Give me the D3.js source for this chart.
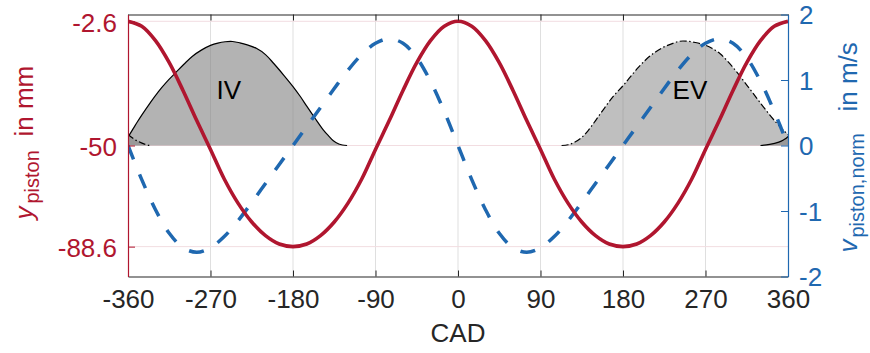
<!DOCTYPE html>
<html>
<head>
<meta charset="utf-8">
<script src="https://cdn.jsdelivr.net/npm/d3@7"></script>
<style>
  body { margin: 0; background: #fff; }
  svg { display: block; }
  text { font-family: "Liberation Sans", Arial, Helvetica, sans-serif; }
</style>
</head>
<body>
<svg id="chart" width="870" height="353"></svg>
<script>
// Crank angle grid (degrees) for piston position and velocity
const cad = [-360,-345,-330,-315,-300,-285,-270,-255,-240,-225,-210,-195,-180,-165,-150,-135,-120,-105,-90,-75,-60,-45,-30,-15,0,
             15,30,45,60,75,90,105,120,135,150,165,180,195,210,225,240,255,270,285,300,315,330,345,360];
// Piston position in mm (left axis)
const yPiston = [-2.6,-4.5,-10.0,-18.4,-29.0,-40.5,-51.5,-62.8,-72.0,-79.2,-84.4,-87.6,-88.6,-87.6,-84.4,-79.2,-72.0,-62.8,-51.5,-40.5,-29.0,-18.4,-10.0,-4.5,-2.6,
                 -4.5,-10.0,-18.4,-29.0,-40.5,-51.5,-62.8,-72.0,-79.2,-84.4,-87.6,-88.6,-87.6,-84.4,-79.2,-72.0,-62.8,-51.5,-40.5,-29.0,-18.4,-10.0,-4.5,-2.6];
// Normalised piston velocity in m/s (right axis)
const vPiston = [0,-0.52,-0.98,-1.34,-1.56,-1.63,-1.56,-1.39,-1.15,-0.87,-0.58,-0.29,0,0.29,0.58,0.87,1.15,1.39,1.56,1.63,1.56,1.34,0.98,0.52,0,
                 -0.52,-0.98,-1.34,-1.56,-1.63,-1.56,-1.39,-1.15,-0.87,-0.58,-0.29,0,0.29,0.58,0.87,1.15,1.39,1.56,1.63,1.56,1.34,0.98,0.52,0];

// Intake valve lift profile, drawn on the left axis above the -50 mm baseline
const ivCad  = [-390,-380,-370,-365,-360,-352,-345,-336,-327,-318,-308,-299,-290,-280,-270,-262,-254,-246,-238,-229,-220,-210,-201,-190,-180,-172,-165,-156,-147,-141,-136,-130,-126,-121];
const ivLift = [-50.0,-49.6,-48.7,-47.9,-46.6,-42.2,-38.4,-33.8,-29.5,-25.8,-22.2,-19.0,-16.0,-13.6,-11.8,-10.9,-10.4,-10.3,-10.8,-11.7,-12.9,-15.3,-18.7,-23.2,-27.5,-31.3,-35.0,-39.6,-44.0,-46.4,-48.2,-49.4,-49.8,-50.0];
// Exhaust valve lift profile
const evCad  = [113,120,127,135,142,151,160,170,180,188,197,206,215,224,233,242,250,259,268,277,286,295,304,313,322,331,340,348,355,360,366,372,378,384];
const evLift = [-50.0,-49.7,-48.8,-46.9,-44.3,-40.0,-35.6,-31.0,-27.2,-23.8,-20.1,-16.9,-14.4,-12.5,-11.2,-10.2,-10.2,-10.7,-11.5,-12.9,-15.0,-18.2,-21.9,-26.0,-30.1,-34.3,-38.3,-41.6,-44.1,-45.8,-47.4,-48.6,-49.5,-50.0];
const valveBase = -50;
const cycleLength = 720;

// Valve labels
const valveLabels = [
  { text: "IV", cad: -250, y: -29 },
  { text: "EV", cad: 253, y: -29 }
];

// Axis ticks
const xTicks = [-360,-270,-180,-90,0,90,180,270,360];
const yLeftTicks = [-88.6,-50,-2.6];
const yRightTicks = [-2,-1,0,1,2];

const W = 870, H = 353;
const margin = { top: 14.5, right: 82, bottom: 76.5, left: 128 };
const pw = W - margin.left - margin.right;
const ph = H - margin.top - margin.bottom;

const RED = "#b0162f";
const BLUE = "#1f68b0";
const AXIS = "#262626";

const svg = d3.select("#chart");

const x = d3.scaleLinear().domain([-360, 360]).range([margin.left, margin.left + pw]);
const yL = d3.scaleLinear().domain([-100, 0]).range([margin.top + ph, margin.top]);
const yR = d3.scaleLinear().domain([-2, 2]).range([margin.top + ph, margin.top]);

svg.append("defs").append("clipPath").attr("id", "plotClip")
  .append("rect").attr("x", margin.left).attr("y", margin.top).attr("width", pw).attr("height", ph);

// Grid lines
const grid = svg.append("g");
grid.selectAll("line.vx").data(xTicks.filter(t => t > -360 && t < 360)).join("line")
  .attr("x1", d => x(d)).attr("x2", d => x(d))
  .attr("y1", margin.top).attr("y2", margin.top + ph)
  .attr("stroke", "#dfdfdf").attr("stroke-width", 1);
grid.selectAll("line.hy").data(yLeftTicks).join("line")
  .attr("x1", margin.left).attr("x2", margin.left + pw)
  .attr("y1", d => yL(d)).attr("y2", d => yL(d))
  .attr("stroke", "#f2dde1").attr("stroke-width", 1);

const plot = svg.append("g").attr("clip-path", "url(#plotClip)");

function valvePoints(cads, lifts, offset) {
  return cads.map((c, i) => [c + offset, lifts[i]]);
}
const area = d3.area().x(d => x(d[0])).y0(yL(valveBase)).y1(d => yL(d[1])).curve(d3.curveCatmullRom);
const vline = d3.line().x(d => x(d[0])).y(d => yL(d[1])).curve(d3.curveCatmullRom);

// Intake valve: this cycle and the next one
[0, cycleLength].forEach(off => {
  const pts = valvePoints(ivCad, ivLift, off);
  plot.append("path").attr("d", area(pts)).attr("fill", "#808080").attr("fill-opacity", 0.6);
});
// Exhaust valve: this cycle and the previous one
[0, -cycleLength].forEach(off => {
  const pts = valvePoints(evCad, evLift, off);
  plot.append("path").attr("d", area(pts)).attr("fill", "#808080").attr("fill-opacity", 0.5);
});
[0, cycleLength].forEach(off => {
  plot.append("path").attr("d", vline(valvePoints(ivCad, ivLift, off)))
    .attr("fill", "none").attr("stroke", "#000").attr("stroke-width", 1.2);
});
[0, -cycleLength].forEach(off => {
  plot.append("path").attr("d", vline(valvePoints(evCad, evLift, off)))
    .attr("fill", "none").attr("stroke", "#000").attr("stroke-width", 1.2)
    .attr("stroke-dasharray", "7,2.5,1.5,2.5");
});

// Valve labels
plot.selectAll("text.valve").data(valveLabels).join("text")
  .attr("x", d => x(d.cad)).attr("y", d => yL(d.y))
  .attr("text-anchor", "middle").attr("dominant-baseline", "central")
  .attr("font-size", 26).attr("fill", "#000")
  .text(d => d.text);

// Piston velocity (right axis)
plot.append("path")
  .attr("d", d3.line().x((d, i) => x(cad[i])).y(d => yR(d)).curve(d3.curveCatmullRom)(vPiston))
  .attr("fill", "none").attr("stroke", BLUE).attr("stroke-width", 3.5)
  .attr("stroke-dasharray", "15,16");

// Piston position (left axis)
plot.append("path")
  .attr("d", d3.line().x((d, i) => x(cad[i])).y(d => yL(d)).curve(d3.curveCatmullRom)(yPiston))
  .attr("fill", "none").attr("stroke", RED).attr("stroke-width", 3.6);

// Axes
function styleAxis(g, color) {
  g.attr("font-size", 26).attr("font-family", '"Liberation Sans", Arial, Helvetica, sans-serif');
  g.select(".domain").attr("stroke", color).attr("stroke-width", 1.2);
  g.selectAll(".tick line").attr("stroke", color).attr("stroke-width", 1);
  g.selectAll(".tick text").attr("fill", color);
}

const gBottom = svg.append("g").attr("transform", `translate(0,${margin.top + ph})`)
  .call(d3.axisBottom(x).tickValues(xTicks).tickSizeInner(-6).tickSizeOuter(0).tickPadding(13).tickFormat(d => String(d)));
styleAxis(gBottom, AXIS);

const gTop = svg.append("g").attr("transform", `translate(0,${margin.top})`)
  .call(d3.axisTop(x).tickValues(xTicks).tickSizeInner(-6).tickSizeOuter(0).tickFormat(""));
styleAxis(gTop, AXIS);

const gLeft = svg.append("g").attr("transform", `translate(${margin.left},0)`)
  .call(d3.axisLeft(yL).tickValues(yLeftTicks).tickSizeInner(-7).tickSizeOuter(0).tickPadding(11).tickFormat(d => String(d)));
styleAxis(gLeft, RED);
gLeft.selectAll(".tick text").attr("dy", "0.38em");

const gRight = svg.append("g").attr("transform", `translate(${margin.left + pw},0)`)
  .call(d3.axisRight(yR).tickValues(yRightTicks).tickSizeInner(-7).tickSizeOuter(0).tickPadding(11).tickFormat(d => String(d)));
styleAxis(gRight, BLUE);
gRight.selectAll(".tick text").attr("dy", "0.36em");

// Axis titles
svg.append("text")
  .attr("x", margin.left + pw / 2).attr("y", 342)
  .attr("text-anchor", "middle").attr("font-size", 26).attr("fill", AXIS)
  .text("CAD");

const yLab = svg.append("text")
  .attr("transform", `translate(33,${margin.top + ph / 2}) rotate(-90)`)
  .attr("font-size", 26).attr("fill", RED);
yLab.append("tspan").attr("x", -74).attr("font-style", "italic").text("y");
yLab.append("tspan").attr("x", -58).attr("dy", 6).attr("font-size", 20).text("piston");
yLab.append("tspan").attr("x", 9).attr("dy", -6).text("in mm");

const vLab = svg.append("text")
  .attr("transform", `translate(857,${margin.top + ph / 2}) rotate(-90)`)
  .attr("font-size", 26).attr("fill", BLUE);
vLab.append("tspan").attr("x", -107).attr("font-style", "italic").text("v");
vLab.append("tspan").attr("x", -92).attr("dy", 7).attr("font-size", 20).text("piston,norm");
vLab.append("tspan").attr("x", 34).attr("dy", -7).text("in m/s");
</script>
</body>
</html>
